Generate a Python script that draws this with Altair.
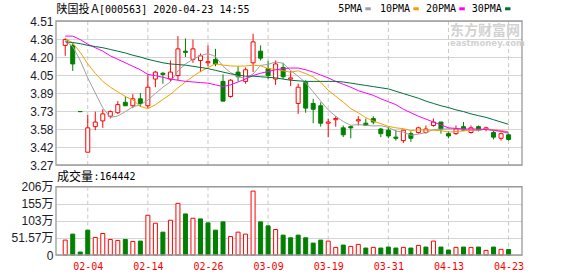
import altair as alt
import pandas as pd

# ---------------- text ----------------
title_name = "陕国投Ａ"
title_rest = "[000563] 2020-04-23 14:55"
vol_title = "成交量"
vol_value = ":164442"
legend_names = ["5PMA", "10PMA", "20PMA", "30PMA"]
legend_colors = ["#a0a0a0", "#f5a000", "#ff00ff", "#00703c"]
watermark_cn = "东方财富网"
watermark_en = "eastmoney.com"

# ---------------- data ----------------
dates = ["01-22", "01-23", "02-03", "02-04", "02-05", "02-06", "02-07", "02-10", "02-11", "02-12",
         "02-13", "02-14", "02-17", "02-18", "02-19", "02-20", "02-21", "02-24", "02-25", "02-26",
         "02-27", "02-28", "03-02", "03-03", "03-04", "03-05", "03-06", "03-09", "03-10", "03-11",
         "03-12", "03-13", "03-16", "03-17", "03-18", "03-19", "03-20", "03-23", "03-24", "03-25",
         "03-26", "03-27", "03-30", "03-31", "04-01", "04-02", "04-03", "04-07", "04-08", "04-09",
         "04-10", "04-13", "04-14", "04-15", "04-16", "04-17", "04-20", "04-21", "04-22", "04-23"]

opens = [4.30, 4.30, 3.73, 3.38, 3.60, 3.65, 3.69, 3.72, 3.81, 3.78,
         3.84, 3.78, 4.01, 4.06, 4.01, 4.04, 4.25, 4.18, 4.17, 4.15,
         4.18, 3.99, 3.86, 4.07, 3.99, 4.15, 4.25, 4.10, 4.01, 4.11,
         4.01, 3.80, 3.98, 3.80, 3.78, 3.63, 3.66, 3.59, 3.60, 3.65,
         3.63, 3.67, 3.58, 3.57, 3.51, 3.48, 3.54, 3.55, 3.55, 3.61,
         3.64, 3.54, 3.54, 3.60, 3.55, 3.60, 3.58, 3.55, 3.50, 3.53]
highs = [4.36, 4.32, 3.73, 3.70, 3.73, 3.75, 3.74, 3.82, 3.86, 3.88,
         3.89, 4.05, 4.08, 4.07, 4.17, 4.38, 4.36, 4.35, 4.23, 4.30,
         4.27, 4.05, 4.01, 4.12, 4.11, 4.40, 4.30, 4.17, 4.17, 4.15,
         4.08, 3.97, 4.00, 3.84, 3.81, 3.67, 3.69, 3.61, 3.61, 3.69,
         3.67, 3.69, 3.59, 3.60, 3.57, 3.57, 3.56, 3.60, 3.61, 3.67,
         3.64, 3.56, 3.61, 3.64, 3.61, 3.61, 3.60, 3.57, 3.55, 3.54]
lows = [4.21, 4.08, 3.73, 3.38, 3.57, 3.59, 3.67, 3.71, 3.78, 3.76,
        3.77, 3.76, 3.94, 3.97, 3.99, 4.00, 4.20, 4.15, 4.07, 4.12,
        4.12, 3.82, 3.85, 3.99, 3.97, 4.07, 4.17, 4.01, 3.96, 4.01,
        3.95, 3.71, 3.72, 3.63, 3.60, 3.51, 3.60, 3.51, 3.50, 3.61,
        3.61, 3.62, 3.51, 3.50, 3.48, 3.46, 3.47, 3.54, 3.54, 3.60,
        3.54, 3.50, 3.53, 3.57, 3.54, 3.56, 3.56, 3.49, 3.48, 3.48]
closes = [4.35, 4.14, 3.73, 3.59, 3.64, 3.71, 3.73, 3.79, 3.78, 3.84,
          3.80, 3.94, 4.07, 4.05, 4.07, 4.27, 4.24, 4.27, 4.21, 4.16,
          4.14, 3.82, 4.00, 4.03, 4.09, 4.33, 4.19, 4.04, 4.14, 4.03,
          4.02, 3.94, 3.76, 3.75, 3.63, 3.64, 3.67, 3.53, 3.59, 3.66,
          3.61, 3.64, 3.54, 3.52, 3.50, 3.57, 3.50, 3.59, 3.58, 3.64,
          3.58, 3.52, 3.58, 3.57, 3.59, 3.57, 3.59, 3.51, 3.54, 3.49]
# volume in 万
volumes = [45, 63, 9, 75, 53, 65, 47, 44, 47, 41,
           42, 120, 96, 69, 105, 156, 124, 111, 109, 97,
           75, 100, 56, 69, 63, 193, 100, 88, 77, 60,
           52, 60, 52, 36, 45, 42, 23, 30, 26, 32,
           21, 23, 21, 24, 21, 23, 21, 29, 24, 42,
           24, 15, 23, 24, 23, 24, 14, 24, 17, 16.44]

ma5 = [4.34, 4.29, 4.17, 4.02, 3.89, 3.762, 3.68, 3.692, 3.73, 3.77,
       3.788, 3.83, 3.886, 3.94, 3.986, 4.08, 4.14, 4.18, 4.212, 4.23,
       4.204, 4.12, 4.066, 4.03, 4.016, 4.054, 4.128, 4.136, 4.158, 4.146,
       4.084, 4.034, 3.978, 3.90, 3.82, 3.744, 3.69, 3.644, 3.612, 3.618,
       3.612, 3.606, 3.608, 3.594, 3.562, 3.554, 3.526, 3.536, 3.548, 3.576,
       3.578, 3.582, 3.58, 3.578, 3.568, 3.566, 3.58, 3.566, 3.56, 3.54]
ma10 = [4.36, 4.32, 4.24, 4.14, 4.06, 3.99, 3.94, 3.90, 3.86, 3.83,
        3.775, 3.755, 3.789, 3.835, 3.878, 3.934, 3.985, 4.033, 4.076, 4.108,
        4.142, 4.13, 4.123, 4.121, 4.123, 4.129, 4.124, 4.101, 4.094, 4.081,
        4.069, 4.081, 4.057, 4.029, 3.983, 3.914, 3.862, 3.811, 3.756, 3.719,
        3.678, 3.648, 3.626, 3.603, 3.59, 3.583, 3.566, 3.572, 3.571, 3.569,
        3.566, 3.554, 3.558, 3.563, 3.572, 3.572, 3.581, 3.573, 3.569, 3.554]
ma20 = [4.38, 4.38, 4.35, 4.31, 4.28, 4.25, 4.21, 4.18, 4.15, 4.12,
        4.09, 4.05, 4.04, 4.025, 4.01, 4.00, 3.99, 3.985, 3.98, 3.975,
        3.96, 3.945, 3.96, 3.985, 4.01, 4.04, 4.06, 4.075, 4.09, 4.10,
        4.105, 4.105, 4.09, 4.07, 4.045, 4.02, 3.99, 3.965, 3.94, 3.91,
        3.89, 3.87, 3.84, 3.815, 3.79, 3.75, 3.72, 3.69, 3.665, 3.64,
        3.615, 3.59, 3.585, 3.58, 3.58, 3.58, 3.575, 3.57, 3.56, 3.55]
ma30 = [4.33, 4.325, 4.315, 4.30, 4.29, 4.28, 4.265, 4.25, 4.235, 4.215,
        4.20, 4.18, 4.165, 4.15, 4.14, 4.135, 4.13, 4.12, 4.11, 4.10,
        4.085, 4.07, 4.055, 4.045, 4.035, 4.035, 4.03, 4.025, 4.02, 4.01,
        4.00, 3.995, 3.99, 3.99, 3.99, 3.99, 3.99, 3.985, 3.975, 3.965,
        3.955, 3.945, 3.935, 3.925, 3.905, 3.885, 3.865, 3.845, 3.82, 3.80,
        3.78, 3.765, 3.745, 3.73, 3.71, 3.695, 3.68, 3.66, 3.64, 3.62]

price_ticks = [3.27, 3.425, 3.58, 3.735, 3.89, 4.045, 4.2, 4.355, 4.51]
price_tick_labels = ["3.27", "3.42", "3.58", "3.73", "3.89", "4.05", "4.20", "4.36", "4.51"]
vol_ticks = [0, 51.57, 103.14, 154.71, 206.28]
vol_tick_labels = ["0", "51.57万", "103万", "155万", "206万"]
date_ticks = [3, 11, 19, 27, 35, 43, 51, 59]

# ---------------- tables ----------------
rows = []
for k in range(len(dates)):
    o, h, l, c = opens[k], highs[k], lows[k], closes[k]
    prev = closes[k - 1] if k > 0 else o
    if c > o:
        cd = "up"
    elif c < o:
        cd = "down"
    else:
        cd = "up" if c >= prev else "down"
    vd = "up" if c >= prev else "down"
    rows.append(dict(i=k, date=dates[k], open=o, high=h, low=l, close=c,
                     vol=volumes[k], cdir=cd, vdir=vd))
df = pd.DataFrame(rows)

ma_rows = []
for name, vals in zip(legend_names, [ma5, ma10, ma20, ma30]):
    for k, v in enumerate(vals):
        ma_rows.append(dict(i=k, v=v, name=name))
ma_df = pd.DataFrame(ma_rows)
grid_df = pd.DataFrame({"i": date_ticks})
one = pd.DataFrame({"k": [0]})

# ---------------- geometry ----------------
W, H = 466, 234
PH = 144          # price panel height
VT = 165.7        # volume panel top

RED = "#ff0000"
GREEN = "#008000"

def arr(vals):
    return "[" + ",".join(repr(v) for v in vals) + "]"

date_expr = arr(dates) + "[datum.value]"
price_expr = arr(price_tick_labels) + "[indexof(" + arr(price_ticks) + ", datum.value)]"
vol_expr = arr(vol_tick_labels) + "[indexof(" + arr(vol_ticks) + ", datum.value)]"

x_axis = alt.Axis(values=date_ticks, labelExpr=date_expr, grid=False, domain=False,
                  tickSize=0, labelPadding=6, labelColor=RED, labelFont="DejaVu Sans Mono",
                  labelFontSize=10, labelFlush=False, title=None)
X = alt.X("i:Q", scale=alt.Scale(domain=[-0.56, 60.12], nice=False, zero=False), axis=x_axis)

price_scale = alt.Scale(domain=[3.27, 4.51], range=[PH, 0], nice=False, zero=False)
vol_scale = alt.Scale(domain=[0, 206.28], range=[H, VT], nice=False, zero=False)

price_axis = alt.Axis(values=price_ticks, labelExpr=price_expr, orient="left", domain=False,
                      tickSize=0, labelPadding=3, grid=True, gridColor="#d4d4d4",
                      labelFont="Liberation Sans", labelFontSize=12, labelColor="#1a1a2a",
                      labelOverlap=False, title=None)
vol_axis = alt.Axis(values=vol_ticks, labelExpr=vol_expr, orient="left", domain=False,
                    tickSize=0, labelPadding=3, grid=True, gridColor="#d4d4d4",
                    labelFont="Liberation Sans, Noto Sans CJK SC", labelFontSize=12,
                    labelColor="#1a1a2a", labelOverlap=False, title=None)

fill_scale = alt.Scale(domain=["up", "down"], range=["#ffffff", GREEN])
stroke_scale = alt.Scale(domain=["up", "down"], range=[RED, GREEN])

base = alt.Chart(df)

vgrid_price = alt.Chart(grid_df).mark_rule(color="#c8c8c8", strokeDash=[4, 3], strokeWidth=1).encode(
    x=X, y=alt.value(0), y2=alt.value(PH))
vgrid_vol = alt.Chart(grid_df).mark_rule(color="#c8c8c8", strokeDash=[4, 3], strokeWidth=1).encode(
    x=X, y=alt.value(VT), y2=alt.value(H))

wicks = base.mark_rule(strokeWidth=1).encode(
    x=X,
    y=alt.Y("low:Q", scale=price_scale, axis=price_axis),
    y2="high:Q",
    stroke=alt.Stroke("cdir:N", scale=stroke_scale, legend=None),
)
bodies = base.mark_bar(size=4, strokeWidth=1).encode(
    x=X,
    y=alt.Y("open:Q", scale=price_scale, axis=None),
    y2="close:Q",
    fill=alt.Fill("cdir:N", scale=fill_scale, legend=None),
    stroke=alt.Stroke("cdir:N", scale=stroke_scale, legend=None),
)
ma_lines = alt.Chart(ma_df).mark_line(strokeWidth=1).encode(
    x=X,
    y=alt.Y("v:Q", scale=price_scale, axis=None),
    color=alt.Color("name:N", scale=alt.Scale(domain=legend_names, range=legend_colors), legend=None),
)
vol_bars = base.mark_bar(size=4, strokeWidth=1).encode(
    x=X,
    y=alt.Y("vol:Q", scale=vol_scale, axis=vol_axis, stack=None),
    fill=alt.Fill("vdir:N", scale=fill_scale, legend=None),
    stroke=alt.Stroke("vdir:N", scale=stroke_scale, legend=None),
)

border_price = alt.Chart(one).mark_rect(fillOpacity=0, stroke="#9a9a9a", strokeWidth=1.3).encode(
    x=alt.value(0), x2=alt.value(W), y=alt.value(0), y2=alt.value(PH))
border_vol = alt.Chart(one).mark_rect(fillOpacity=0, stroke="#9a9a9a", strokeWidth=1.3).encode(
    x=alt.value(0), x2=alt.value(W), y=alt.value(VT), y2=alt.value(H))


def text_layer(txt, x, y, size, font, color="#000000", weight="normal"):
    return alt.Chart(pd.DataFrame({"t": [txt]})).mark_text(
        align="left", baseline="middle", font=font, fontSize=size, color=color, fontWeight=weight
    ).encode(text="t:N", x=alt.value(x), y=alt.value(y))


texts = [
    text_layer(title_name, 0.5, -11.5, 11, "Noto Sans CJK SC"),
    text_layer(title_rest, 43, -11.5, 10, "DejaVu Sans Mono"),
    text_layer(vol_title, 1, 156, 12, "Noto Sans CJK SC"),
    text_layer(vol_value, 37.5, 156, 10, "DejaVu Sans Mono"),
    text_layer(watermark_cn, 394, 10, 14, "Noto Sans CJK SC", "#d2d2d2", "bold"),
    text_layer(watermark_en, 394, 22, 8.5, "DejaVu Sans", "#d2d2d2", "bold"),
]

legend_text_x = [282.3, 324, 370, 415.7]
legend_sw_x = [309.3, 357.3, 403.3, 449]
legend_layers = []
for name, col, tx, sx in zip(legend_names, legend_colors, legend_text_x, legend_sw_x):
    legend_layers.append(text_layer(name, tx, -12.2, 10, "DejaVu Sans Mono"))
    legend_layers.append(
        alt.Chart(one).mark_rect(color=col).encode(
            x=alt.value(sx), x2=alt.value(sx + 5.5), y=alt.value(-13.7), y2=alt.value(-10.7)))

chart = alt.layer(
    vgrid_price, vgrid_vol, wicks, bodies, ma_lines, vol_bars, border_price, border_vol,
    *texts, *legend_layers
).resolve_scale(y="independent").properties(
    width=W, height=H,
    padding={"left": 56, "top": 21, "right": 56, "bottom": 21},
    autosize=alt.AutoSizeParams(type="none"),
    background="white",
).configure_view(strokeWidth=0)

chart.save("out.html", embed_options={"renderer": "svg", "actions": False})
